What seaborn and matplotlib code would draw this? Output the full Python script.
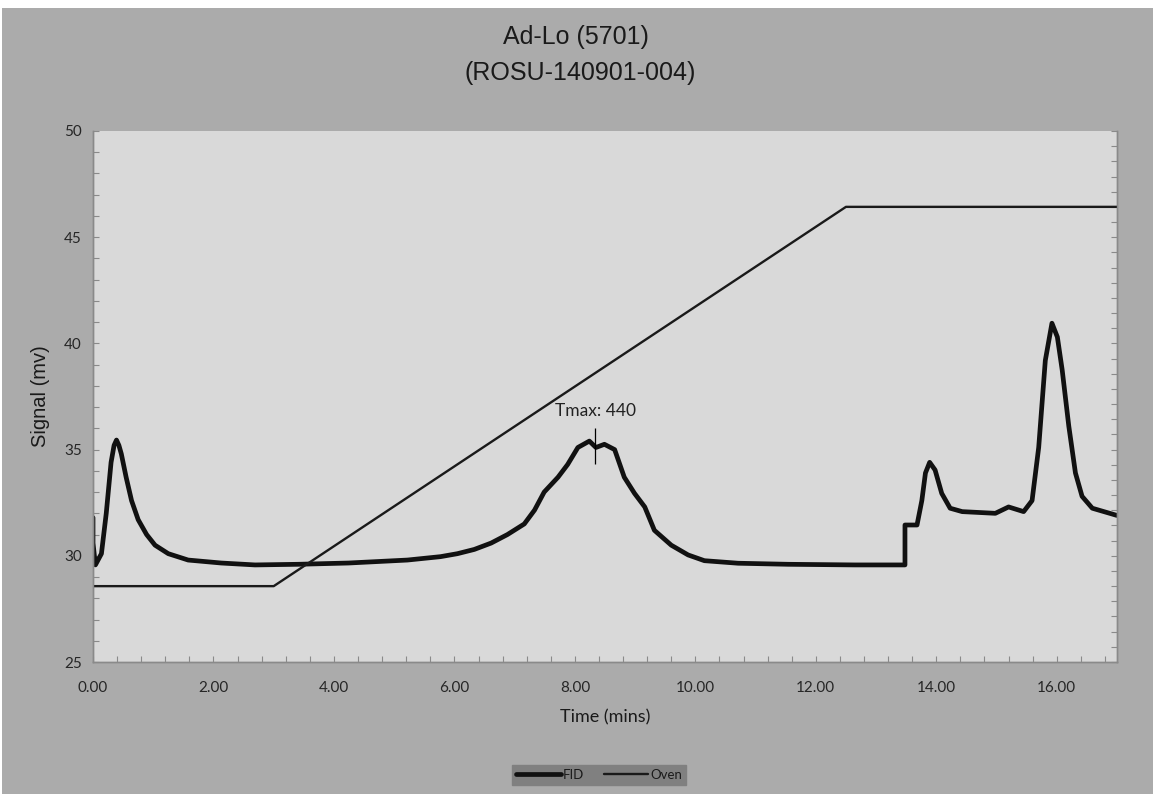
import numpy as np
import pandas as pd
import matplotlib
matplotlib.use("Agg")
import matplotlib.pyplot as plt
from matplotlib.patches import Rectangle
from matplotlib.ticker import MultipleLocator, FormatStrFormatter
import seaborn as sns

# FID trace (time in mins, signal in mv)
fid_time = [0.00, 0.00, 0.04, 0.14, 0.22, 0.30, 0.35, 0.39, 0.43, 0.47, 0.55, 0.64, 0.75, 0.89,
            1.03, 1.25, 1.58, 2.13, 2.69, 3.40, 4.24, 5.22, 5.77, 6.05, 6.33, 6.61,
            6.88, 7.16, 7.33, 7.49, 7.72, 7.88, 8.05, 8.24, 8.35, 8.49, 8.66, 8.82,
            8.99, 9.16, 9.32, 9.60, 9.88, 10.15, 10.71, 11.54, 12.65, 13.48, 13.48,
            13.68, 13.76, 13.82, 13.89, 13.98, 14.09, 14.23, 14.43, 14.98, 15.20,
            15.45, 15.59, 15.70, 15.81, 15.92, 16.01, 16.09, 16.20, 16.31, 16.42,
            16.59, 17.00]
fid_signal = [31.8, 30.6, 29.57, 30.1, 32.0, 34.4, 35.2, 35.45, 35.2, 34.8, 33.7, 32.6, 31.7, 31.0,
              30.5, 30.1, 29.8, 29.66, 29.57, 29.6, 29.66, 29.8, 29.96, 30.1, 30.3, 30.6,
              31.0, 31.5, 32.15, 33.0, 33.7, 34.3, 35.1, 35.4, 35.1, 35.25, 35.0, 33.7,
              32.94, 32.3, 31.2, 30.5, 30.04, 29.77, 29.65, 29.6, 29.57, 29.57, 31.45,
              31.45, 32.6, 33.9, 34.4, 34.04, 32.94, 32.24, 32.08, 32.0, 32.3,
              32.08, 32.6, 35.1, 39.2, 40.95, 40.3, 38.75, 36.1, 33.9, 32.8,
              32.24, 31.9]

# oven program (secondary axis, deg C)
oven_time = [0.0, 3.0, 12.5, 17.0]
oven_temp = [300, 300, 550, 550]

tmax_label = "Tmax: 440"
tmax_time = 8.34
tmax_span = [34.3, 36.0]

fid = pd.DataFrame({"Time": fid_time, "Signal": fid_signal})
oven = pd.DataFrame({"Time": oven_time, "Temp": oven_temp})

sns.set_theme(style="white")
plt.rcParams["font.family"] = ["Lato", "DejaVu Sans"]
arial = ["Liberation Sans", "DejaVu Sans"]

fig = plt.figure(figsize=(11.55, 7.94), dpi=100, facecolor="white")
fig.patches.append(Rectangle((0.002, 0.0), 0.996, 1 - 8 / 794, transform=fig.transFigure,
                             facecolor="#ababab", edgecolor="none", zorder=-10))

ax = fig.add_axes([93 / 1155, 1 - 662 / 794, (1117 - 93) / 1155, (662 - 131) / 794])
ax.set_facecolor("#d9d9d9")
ax2 = ax.twinx()

sns.lineplot(data=fid, x="Time", y="Signal", ax=ax, estimator=None, sort=False,
             color="#111111", linewidth=3.4, label="FID", legend=False)
sns.lineplot(data=oven, x="Time", y="Temp", ax=ax2, estimator=None, sort=False,
             color="#1a1a1a", linewidth=1.7, label="Oven", legend=False)

# Tmax marker
ax.vlines(tmax_time, tmax_span[0], tmax_span[1], color="black", linewidth=0.9)
ax.text(tmax_time, tmax_span[1] + 0.45, tmax_label, ha="center", va="bottom",
        fontsize=12.5, color="#222222")

ax.set_xlim(0, 17)
ax.set_ylim(25, 50)
ax2.set_ylim(250, 600)

ax.xaxis.set_major_locator(MultipleLocator(2))
ax.xaxis.set_minor_locator(MultipleLocator(0.4))
ax.xaxis.set_major_formatter(FormatStrFormatter("%.2f"))
ax.yaxis.set_major_locator(MultipleLocator(5))
ax.yaxis.set_minor_locator(MultipleLocator(1))
ax2.yaxis.set_major_locator(MultipleLocator(10))

for a in (ax, ax2):
    a.spines["top"].set_visible(False)
    for s in ("left", "right", "bottom"):
        a.spines[s].set_color("#8a8a8a")
        a.spines[s].set_linewidth(1.0)
ax.tick_params(axis="both", which="both", direction="in", length=4, width=0.8,
               color="#8a8a8a", labelsize=11, labelcolor="#262626")
ax.tick_params(axis="x", which="both", bottom=True, pad=14)
ax.tick_params(axis="y", which="both", left=True, pad=8)
ax2.tick_params(axis="y", which="both", direction="in", length=4, width=0.8,
                color="#8a8a8a", right=True, labelright=False)
ax2.set_ylabel("")

ax.set_xlabel("Time (mins)", fontsize=13, color="#1a1a1a", labelpad=10)
ax.set_ylabel("Signal (mv)", fontsize=14.5, color="#1a1a1a", labelpad=10, family=arial)

fig.text(576 / 1155, 1 - 37 / 794, "Ad-Lo (5701)", ha="center", va="center",
         fontsize=18, color="#1a1a1a", family=arial)
fig.text(580 / 1155, 1 - 73 / 794, "(ROSU-140901-004)", ha="center", va="center",
         fontsize=18, color="#1a1a1a", family=arial)

h1, l1 = ax.get_legend_handles_labels()
h2, l2 = ax2.get_legend_handles_labels()
leg = fig.legend(h1 + h2, l1 + l2, loc="center", bbox_to_anchor=(599 / 1155, 1 - 775 / 794),
                 ncol=2, fontsize=9.5, frameon=True, facecolor="#808080", edgecolor="#808080",
                 fancybox=False, framealpha=1, handlelength=3.4, handletextpad=0.15,
                 columnspacing=1.5, borderpad=0.3, borderaxespad=0)
for t in leg.get_texts():
    t.set_color("#1a1a1a")

fig.savefig("out.png", dpi=100, facecolor=fig.get_facecolor())
